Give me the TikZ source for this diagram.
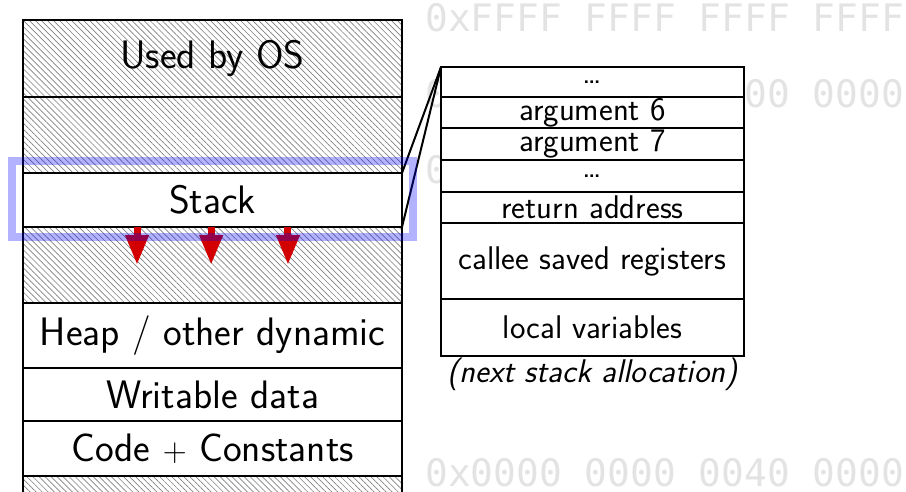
\documentclass[tikz,border=0pt]{standalone}
\usepackage{fontspec}
\newfontfamily\hexfont{DejaVu Sans Mono}
\usetikzlibrary{arrows.meta,positioning,patterns.meta}
\definecolor{growred}{RGB}{210,0,0}

\begin{document}
\begin{tikzpicture}[x=0.75pt, y=-0.75pt, node distance=0pt,
  seg/.style={draw, line width=1.2pt, outer sep=0pt, inner sep=0pt, minimum width=284.25pt, font=\sffamily\fontsize{29.8}{31}\selectfont},
  hatched/.style={seg, pattern={Lines[angle=-45, distance=3.2pt, line width=0.5pt]}, pattern color=gray},
  frame/.style={draw, line width=1.2pt, outer sep=0pt, inner sep=0pt, fill=white, minimum width=227.25pt, font=\sffamily\fontsize{24.6}{26}\selectfont},
  hexaddr/.style={anchor=base west, inner sep=0pt, text=black!11, font=\hexfont\fontsize{28.4}{30}\selectfont},
  growth/.style={draw=growred, line width=5.25pt, -{Triangle[length=22.5pt,width=16.5pt]}}]
  \useasboundingbox (0,0) rectangle (906,492);
  % addresses behind the frame
  \node[hexaddr] (hi) at (425,32) {0xFFFF FFFF FFFF FFFF};
  \node[hexaddr] (kern) at (425,108) {0xFFFF 8000 0000 0000};
  \node[hexaddr] (stk) at (425,183) {0x7F...};
  \node[hexaddr] (lo) at (425,486) {0x0000 0000 0040 0000};
  % address space
  \node[hatched, minimum height=57.75pt, anchor=north west] (os) at (23,20) {Used by OS};
  \node[hatched, minimum height=57pt, below=of os] (upper) {};
  \node[seg, minimum height=40.5pt, below=of upper] (stack) {Stack};
  \node[hatched, minimum height=57pt, below=of stack] (lower) {};
  \node[seg, minimum height=48.75pt, below=of lower] (heap) {Heap / other dynamic};
  \node[seg, minimum height=39.75pt, below=of heap] (data) {Writable data};
  \node[seg, minimum height=41.25pt, below=of data] (code) {Code $+$ Constants};
  \node[hatched, minimum height=18pt, below=of code] (bottom) {};
  \foreach \dx in {-56.6pt,-1pt,56.6pt}
    \draw[growth] ([xshift=\dx]stack.south) -- ++(0,38);
  % one stack frame
  \node[frame, minimum height=22.5pt, anchor=north west] (more) at (441,67) {\dots};
  \node[frame, minimum height=23.25pt, below=of more] (arg6) {argument 6};
  \node[frame, minimum height=24pt, below=of arg6] (arg7) {argument 7};
  \node[frame, minimum height=24pt, below=of arg7] (more2) {\dots};
  \node[frame, minimum height=23.25pt, below=of more2] (ret) {return address};
  \node[frame, minimum height=57pt, below=of ret] (saved) {callee saved registers};
  \node[frame, minimum height=42.75pt, below=of saved] (locals) {local variables};
  \node[below=1pt of locals, inner sep=0pt, font=\sffamily\itshape\fontsize{24.6}{26}\selectfont] (next) {(next stack allocation)};
  \draw[line width=1.5pt] (more.north west) -- (stack.north east);
  \draw[line width=1.5pt] (more.north west) -- (stack.south east);
  % highlight
  \draw[blue, opacity=0.3, line width=6pt] (12,161) rectangle (413,237);
\end{tikzpicture}
\end{document}
